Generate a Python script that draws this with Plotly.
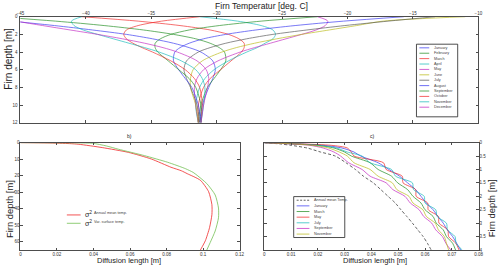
import plotly.graph_objects as go

W, H = 501, 268
FONT = "Liberation Sans, Arial, sans-serif"

# ---------------- top panel: firn temperature profiles ----------------
months = ["January", "February", "March", "April", "May", "June",
          "July", "August", "September", "October", "November", "December"]
depth_top = [0, 0.5, 1, 1.5, 2, 2.5, 3, 3.5, 4, 5, 6, 7, 8, 10, 12]
temp_jan = [-49.3, -45.7, -42.4, -39.5, -36.9, -34.9, -33.3, -32.1, -31.2, -30.3, -30.1, -30.3, -30.6, -31.1, -31.3]
temp_feb = [-46.9, -42.3, -38.6, -35.6, -33.3, -31.6, -30.5, -29.8, -29.4, -29.3, -29.7, -30.2, -30.7, -31.2, -31.4]
temp_mar = [-40.3, -36.0, -32.8, -30.5, -29.1, -28.3, -27.9, -27.9, -28.1, -28.9, -29.7, -30.5, -31.0, -31.4, -31.4]
temp_apr = [-31.3, -28.4, -26.6, -25.7, -25.5, -25.7, -26.3, -26.9, -27.7, -29.1, -30.2, -30.9, -31.3, -31.6, -31.4]
temp_may = [-22.3, -21.5, -21.7, -22.4, -23.5, -24.7, -25.9, -27.1, -28.2, -29.9, -31.0, -31.5, -31.7, -31.6, -31.4]
temp_jun = [-11.0, -17.3, -19.3, -21.4, -23.5, -25.4, -27.1, -28.5, -29.6, -31.1, -31.8, -32.0, -32.0, -31.6, -31.4]
temp_jul = [-13.3, -16.9, -20.2, -23.1, -25.7, -27.7, -29.3, -30.5, -31.4, -32.3, -32.5, -32.3, -32.0, -31.5, -31.3]
temp_aug = [-15.7, -20.3, -24.0, -27.0, -29.3, -31.0, -32.1, -32.8, -33.2, -33.3, -32.9, -32.4, -31.9, -31.4, -31.2]
temp_sep = [-22.3, -26.6, -29.8, -32.1, -33.5, -34.3, -34.7, -34.7, -34.5, -33.7, -32.9, -32.1, -31.6, -31.2, -31.2]
temp_oct = [-31.3, -34.2, -36.0, -36.9, -37.1, -36.9, -36.4, -35.7, -34.9, -33.5, -32.4, -31.7, -31.3, -31.1, -31.2]
temp_nov = [-40.3, -41.1, -40.9, -40.2, -39.1, -37.9, -36.7, -35.5, -34.4, -32.7, -31.6, -31.1, -30.9, -31.0, -31.2]
temp_dec = [-46.9, -45.3, -43.3, -41.2, -39.1, -37.2, -35.5, -34.1, -33.0, -31.5, -30.8, -30.6, -30.7, -31.0, -31.2]
top_series = [temp_jan, temp_feb, temp_mar, temp_apr, temp_may, temp_jun,
              temp_jul, temp_aug, temp_sep, temp_oct, temp_nov, temp_dec]
temp_ticks = [-45, -40, -35, -30, -25, -20, -15, -10]
top_depth_ticks = [0, 2, 4, 6, 8, 10, 12]

# ---------------- panel b: diffusion length, 0-65 m ----------------
depth_b_mean = [0, 0.2, 0.6, 1.0, 3.0, 5.9, 9.9, 14.9, 17.0, 18.8, 22.8, 29.7, 37.6, 43.6, 51.5, 59.4, 65]
diff_b_mean = [0, 0.015, 0.027, 0.032, 0.0448, 0.0591, 0.0716, 0.0824, 0.0880, 0.0913, 0.0985, 0.1030, 0.1048, 0.1048, 0.1035, 0.1012, 0.0985]
depth_b_var = [0, 0.1, 0.4, 2.0, 4.0, 7.9, 11.9, 15.8, 18.0, 19.8, 24.8, 31.7, 39.6, 45.5, 53.5, 60.4, 65]
diff_b_var = [0, 0.020, 0.0394, 0.047, 0.0537, 0.068, 0.0806, 0.0904, 0.0945, 0.0967, 0.1020, 0.1066, 0.1084, 0.1084, 0.1066, 0.1039, 0.1020]
b_x_ticks = [0, 0.02, 0.04, 0.06, 0.08, 0.1, 0.12]
b_x_labels = ["0", "0.02", "0.04", "0.06", "0.08", "0.1", "0.12"]
b_y_ticks = [0, 10, 20, 30, 40, 50, 60]

# ---------------- panel c: diffusion length, 0-4 m ----------------
depth_c = [0, 0.05, 0.1, 0.2, 0.35, 0.5, 0.75, 1.0, 1.25, 1.5, 1.75, 2.0, 2.25, 2.5, 2.75, 3.0, 3.25, 3.5, 3.75, 4.0]
diff_c_mean = [0, 0.006, 0.010, 0.016, 0.021, 0.0265, 0.0305, 0.034, 0.037, 0.0407, 0.0435, 0.0462, 0.0489, 0.051, 0.0532, 0.0553, 0.0573, 0.0593, 0.0609, 0.0623]
diff_c_jan = [0, 0.013, 0.022, 0.029, 0.0335, 0.036, 0.0425, 0.0465, 0.0505, 0.0535, 0.0565, 0.0585, 0.0605, 0.0630, 0.0648, 0.0668, 0.0683, 0.0703, 0.0718, 0.0733]
diff_c_mar = [0, 0.012, 0.020, 0.026, 0.030, 0.0325, 0.0395, 0.0425, 0.0475, 0.0498, 0.0535, 0.0555, 0.0585, 0.0600, 0.0630, 0.0642, 0.0668, 0.0680, 0.0703, 0.0714]
diff_c_may = [0, 0.014, 0.025, 0.031, 0.0325, 0.0335, 0.0445, 0.0455, 0.0515, 0.0518, 0.0565, 0.0567, 0.0610, 0.0612, 0.0650, 0.0652, 0.0685, 0.0688, 0.0715, 0.0727]
diff_c_jul = [0, 0.012, 0.020, 0.027, 0.031, 0.0365, 0.0395, 0.0475, 0.0490, 0.0553, 0.0557, 0.0597, 0.0600, 0.0640, 0.0645, 0.0680, 0.0684, 0.0712, 0.0716, 0.0739]
diff_c_sep = [0, 0.010, 0.017, 0.022, 0.026, 0.0285, 0.0315, 0.0365, 0.0395, 0.0455, 0.0480, 0.0525, 0.0545, 0.0578, 0.0595, 0.0625, 0.0640, 0.0665, 0.0678, 0.0696]
diff_c_nov = [0, 0.011, 0.018, 0.024, 0.028, 0.031, 0.0335, 0.0395, 0.0425, 0.0478, 0.0495, 0.0540, 0.0555, 0.0592, 0.0605, 0.0638, 0.0650, 0.0672, 0.0680, 0.0688]
c_names = ["Annual mean Temp.", "January", "March", "May", "July", "September", "November"]
c_series = [diff_c_mean, diff_c_jan, diff_c_mar, diff_c_may, diff_c_jul, diff_c_sep, diff_c_nov]
c_x_ticks = [0, 0.01, 0.02, 0.03, 0.04, 0.05, 0.06, 0.07, 0.08]
c_x_labels = ["0", "0.01", "0.02", "0.03", "0.04", "0.05", "0.06", "0.07", "0.08"]
c_y_ticks = [0, 0.5, 1, 1.5, 2, 2.5, 3, 3.5, 4]
c_y_labels = ["0", "0.5", "1", "1.5", "2", "2.5", "3", "3.5", "4"]

# ---------------- styles ----------------
ML = ["#3030f0", "#1a8a1a", "#f02020", "#10b8b8", "#c020c0", "#b8b810", "#505050"]
month_colors = [ML[i % 7] for i in range(12)]
c_colors = ["#202020", ML[0], ML[1], ML[2], ML[3], ML[4], ML[5]]
AX = "#4d4d4d"


def X(p):
    return p / W


def Y(p):
    return 1 - p / H


fig = go.Figure()

for vals, col in zip(top_series, month_colors):
    fig.add_trace(go.Scatter(x=vals, y=depth_top, mode="lines", xaxis="x", yaxis="y", opacity=0.85,
                             line=dict(color=col, width=0.75, shape="spline", smoothing=0.8),
                             showlegend=False, hoverinfo="skip"))

fig.add_trace(go.Scatter(x=diff_b_mean, y=depth_b_mean, mode="lines", xaxis="x2", yaxis="y2",
                         line=dict(color="#f02828", width=0.8, shape="spline", smoothing=0.6),
                         showlegend=False, hoverinfo="skip"))
fig.add_trace(go.Scatter(x=diff_b_var, y=depth_b_var, mode="lines", xaxis="x2", yaxis="y2",
                         line=dict(color="#74c054", width=0.8, shape="spline", smoothing=0.6),
                         showlegend=False, hoverinfo="skip"))

for i, (vals, col) in enumerate(zip(c_series, c_colors)):
    fig.add_trace(go.Scatter(x=vals, y=depth_c, mode="lines", xaxis="x3", yaxis="y3", opacity=0.9,
                             line=dict(color=col, width=0.75, shape="spline", smoothing=0.7,
                                       dash="3px,2px" if i == 0 else "solid"),
                             showlegend=False, hoverinfo="skip"))


def ax(**kw):
    d = dict(showline=True, mirror="ticks", linecolor=AX, linewidth=0.8, ticks="inside",
             ticklen=2.5, tickwidth=0.6, tickcolor=AX, showgrid=False, zeroline=False,
             tickfont=dict(family=FONT, size=4.5, color="#333"), fixedrange=True)
    d.update(kw)
    return d


layout = dict(
    width=W, height=H, margin=dict(l=0, r=0, t=0, b=0),
    paper_bgcolor="white", plot_bgcolor="white", showlegend=False,
    xaxis=ax(domain=[X(16.7), X(483)], range=[-45, -10], side="top", anchor="y",
             tickvals=temp_ticks, ticklabelstandoff=-1),
    yaxis=ax(domain=[Y(123), Y(15)], range=[12, 0], anchor="x", tickvals=top_depth_ticks,
             ticklabelstandoff=1),
    xaxis2=ax(domain=[X(16.7), X(240)], range=[0, 0.12], anchor="y2",
              tickvals=b_x_ticks, ticktext=b_x_labels),
    yaxis2=ax(domain=[Y(252.7), Y(143.3)], range=[65, 0], anchor="x2", tickvals=b_y_ticks,
              ticklabelstandoff=-1),
    xaxis3=ax(domain=[X(265), X(483.3)], range=[0, 0.08], anchor="y3",
              tickvals=c_x_ticks, ticktext=c_x_labels),
    yaxis3=ax(domain=[Y(252.7), Y(143.3)], range=[4, 0], anchor="x3", side="right",
              tickvals=c_y_ticks, ticktext=c_y_labels, ticklabelstandoff=-1),
)

ann = []
shapes = []


def text(t, x, y, size, xanchor="center", yanchor="middle", angle=0, color="#222"):
    ann.append(dict(text=t, x=X(x), y=Y(y), xref="paper", yref="paper", showarrow=False,
                    xanchor=xanchor, yanchor=yanchor, textangle=angle,
                    font=dict(family=FONT, size=size, color=color)))


def seg(x0, y0, x1, y1, color, width=0.8, dash="solid"):
    shapes.append(dict(type="line", xref="paper", yref="paper", x0=X(x0), y0=Y(y0),
                       x1=X(x1), y1=Y(y1), line=dict(color=color, width=width, dash=dash)))


# axis titles
text("Firn Temperatur [deg. C]", 262, 4.5, 8.6)
text("Firn depth [m]", 4.5, 57.5, 10, angle=-90)
text("Firn depth [m]", 5, 211, 9.4, angle=-90)
text("Diffusion length [m]", 127, 263, 7.5)
text("Diffusion length [m]", 378, 263, 7.5)
text("Firn depth [m]", 496, 210, 9.4, angle=-90)
text("b)", 128, 137, 5)
text("c)", 375, 137, 5)

# top legend
shapes.append(dict(type="rect", xref="paper", yref="paper", x0=X(420), x1=X(462),
                   y0=Y(117), y1=Y(43), line=dict(color="#222", width=0.8), fillcolor="white"))
for i, (m, col) in enumerate(zip(months, month_colors)):
    yy = 46.7 + 5.5 * i
    seg(423, yy, 433, yy, col, 0.7)
    text(m, 435.5, yy, 3.8, xanchor="left", color="#444")

# panel c legend
shapes.append(dict(type="rect", xref="paper", yref="paper", x0=X(295), x1=X(347),
                   y0=Y(240), y1=Y(198.3), line=dict(color="#222", width=0.8), fillcolor="white"))
for i, (nm, col) in enumerate(zip(c_names, c_colors)):
    yy = 202 + 5.75 * i
    seg(298, yy, 311, yy, col, 0.7, "2px,1.5px" if i == 0 else "solid")
    text(nm, 313.5, yy, 3.8, xanchor="left", color="#444")

# panel b legend
seg(64, 217, 78, 217, "#f02828", 0.8)
seg(64, 225.5, 78, 225.5, "#74c054", 0.8)
text("σ<sup>2</sup>", 80, 216.5, 7, xanchor="left")
text("σ<sup>2</sup>", 80, 225.5, 7, xanchor="left")
text("Annual mean temp.", 90, 215, 3.8, xanchor="left", color="#444")
text("Var. surface temp.", 90, 224, 3.8, xanchor="left", color="#444")

layout["annotations"] = ann
layout["shapes"] = shapes
fig.update_layout(**layout)

fig.write_html("out.html", config={"displayModeBar": False})
